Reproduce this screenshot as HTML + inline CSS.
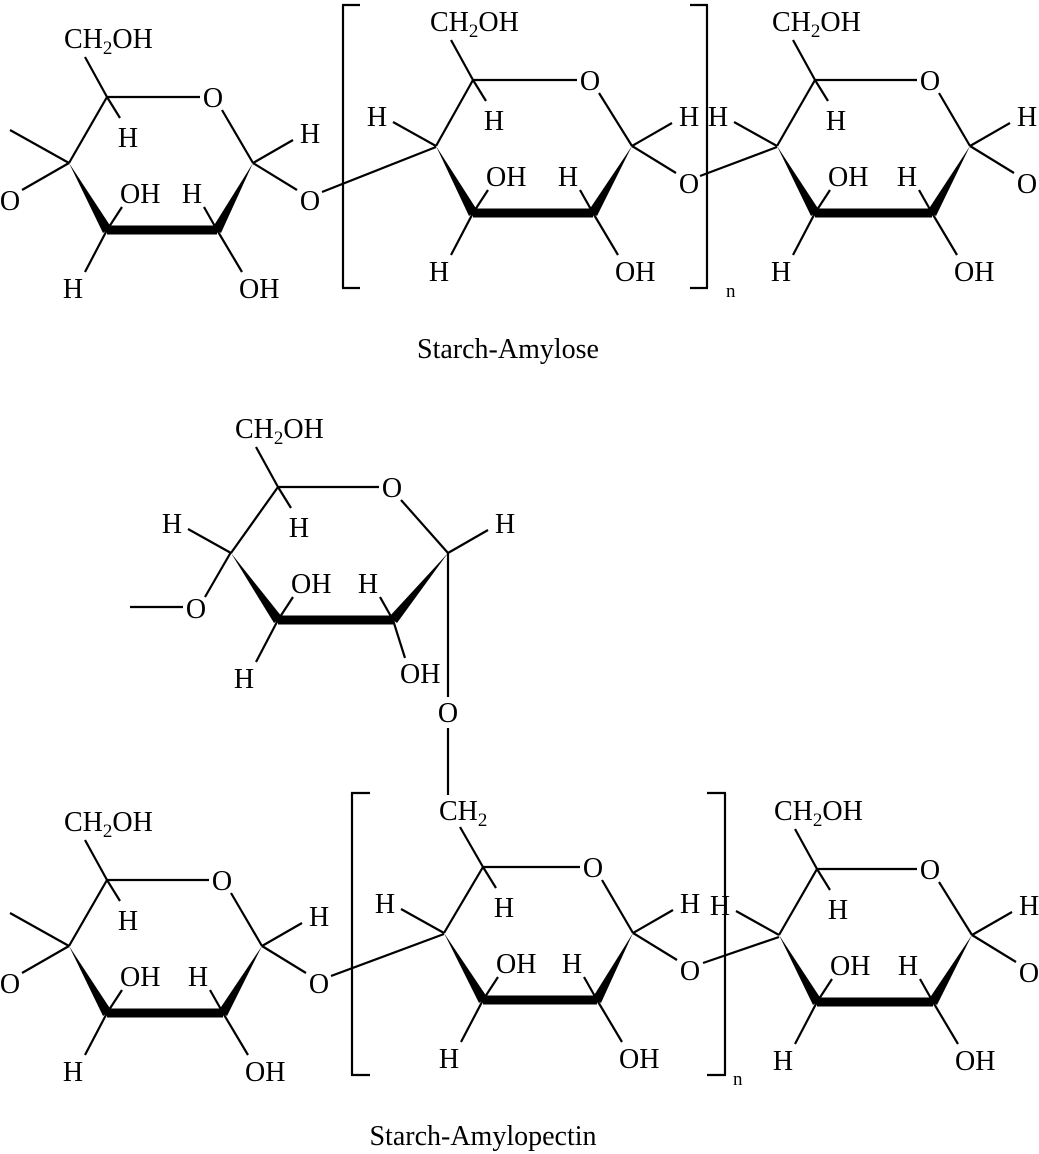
<!DOCTYPE html>
<html><head><meta charset="utf-8"><style>
html,body{margin:0;padding:0;background:#fff;}
svg{display:block;}
text{font-family:"Liberation Serif",serif;font-size:28px;fill:#000;}
</style></head><body>
<svg id="s" width="1039" height="1154" viewBox="0 0 1039 1154" xmlns="http://www.w3.org/2000/svg"></svg>
<script>
var out=[];
function L(a,b,c,d,w){out.push('<line x1="'+a+'" y1="'+b+'" x2="'+c+'" y2="'+d+'" stroke="#000" stroke-width="'+(w||2.2)+'"/>');}
function T(x,y,s,anc,fs){out.push('<text x="'+x+'" y="'+y+'"'+(anc?' text-anchor="'+anc+'"':'')+(fs?' style="font-size:'+fs+'px"':'')+'>'+s+'</text>');}
function P(pts){out.push('<polygon points="'+pts.map(function(p){return p.join(",")}).join(" ")+'" fill="#000"/>');}
var CH2OH='CH<tspan style="font-size:19px" dy="6">2</tspan><tspan dy="-6">OH</tspan>';
var CH2='CH<tspan style="font-size:19px" dy="6">2</tspan>';
function ring(x,y,o){
  var s=o.s||1;
  var O=[x+(o.Ox||106*s),y], C1=[x+(o.C1x||146*s),y+66], C2=[x+(o.C2x||110*s),y+133], C3=[x,y+133], C4=[x+(o.C4x||-38),y+66], C5=[x,y];
  L(C5[0],C5[1],O[0]-13,O[1]);
  L(O[0]+9,O[1]+13,C1[0],C1[1]);
  L(C5[0],C5[1],C4[0],C4[1]);
  P([C4,[C3[0]-4,C3[1]+3],[C3[0]+4,C3[1]-3]]);
  out.push('<rect x="'+C3[0]+'" y="'+(C3[1]-4.5)+'" width="'+(C2[0]-C3[0])+'" height="9" fill="#000"/>');
  P([C1,[C2[0]-4,C2[1]-3],[C2[0]+4,C2[1]+3]]);
  T(O[0],O[1]+10,'O','middle');
  if(o.top==='CH2'){L(C5[0],C5[1],C5[0]-23,C5[1]-40);T(C5[0]-44,C5[1]-47,CH2);}
  else{L(C5[0],C5[1],C5[0]-22,C5[1]-40);T(C5[0]-43,C5[1]-49,CH2OH);}
  L(C5[0],C5[1],C5[0]+13,C5[1]+21);T(C5[0]+21,C5[1]+50,'H','middle');
  L(C3[0],C3[1],C3[0]+15,C3[1]-23);T(C3[0]+13,C3[1]-27,'OH');
  L(C3[0],C3[1],C3[0]-22,C3[1]+42);T(C3[0]-34,C3[1]+68,'H','middle');
  L(C2[0],C2[1],C2[0]-13,C2[1]-23);T(C2[0]-25,C2[1]-27,'H','middle');
  var c=o.c2OH||[25,42,22,68];
  L(C2[0],C2[1],C2[0]+c[0],C2[1]+c[1]);T(C2[0]+c[2],C2[1]+c[3],'OH');
  L(C1[0],C1[1],C1[0]+40,C1[1]-23);T(C1[0]+47,C1[1]-20,'H');
  if(!o.noC1O){L(C1[0],C1[1],C1[0]+44,C1[1]+27);T(C1[0]+57,C1[1]+47,'O','middle');}
  if(o.c4==='mO'){L(C4[0],C4[1],C4[0]-59,C4[1]-33);L(C4[0],C4[1],C4[0]-47,C4[1]+27);T(C4[0]-59,C4[1]+47,'O','middle');}
  else if(o.c4==='H'){L(C4[0],C4[1],C4[0]-43,C4[1]-24);T(C4[0]-59,C4[1]-20,'H','middle');}
}
function bracketL(x,y1,y2,t){L(x,y1,x,y2);L(x-1,y1,x+t,y1);L(x-1,y2,x+t,y2);}
function bracketR(x,y1,y2,t){L(x,y1,x,y2);L(x+1,y1,x-t,y1);L(x+1,y2,x-t,y2);}

ring(107,97,{s:1,c4:'mO'});
ring(473,80,{s:1.09,Ox:117,C1x:159,C2x:120,C4x:-37,c4:'H'});
ring(815,80,{s:1.06,Ox:115,C1x:155,C2x:117,C4x:-38,c4:'H'});
L(322,192,436,147);
L(700,176,777,147);
bracketL(343,5,288,17);bracketR(707,5,288,17);
T(726,297,'n',null,19);
T(508,358,'Starch-Amylose','middle',28);

ring(278,487,{Ox:114,C1x:170,C2x:115,C4x:-47,c4:'H',noC1O:true,c2OH:[12,38,7,63]});
L(231,552,205,597);T(196,618,'O','middle');L(130,607,183,607);
L(448,553,448,697);T(448,722,'O','middle');L(448,728,448,795);

ring(107,880,{s:1.06,Ox:115,C1x:155,C2x:116,C4x:-38,c4:'mO'});
ring(483,867,{s:1.03,Ox:110,C1x:150,C2x:114,C4x:-39,c4:'H',top:'CH2'});
ring(817,869,{s:1.06,Ox:113,C1x:155,C2x:116,C4x:-38,c4:'H'});
L(331,976,444,934);
L(703,963,779,937);
bracketL(352,793,1075,18);bracketR(725,793,1075,18);
T(733,1085,'n',null,19);
T(483,1145,'Starch-Amylopectin','middle',28);

document.getElementById('s').innerHTML=out.join('');
</script>
</body></html>
